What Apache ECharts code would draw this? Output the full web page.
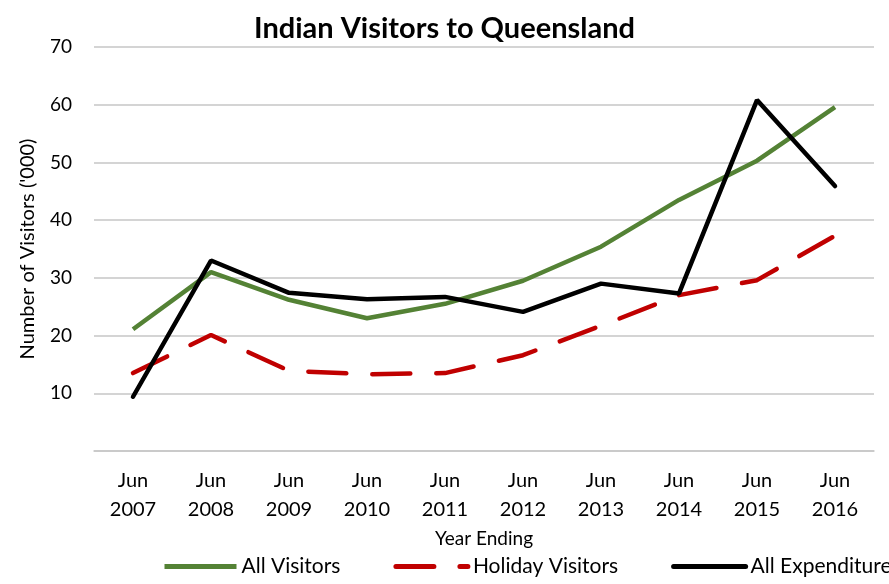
<!DOCTYPE html>
<html>
<head>
<meta charset="utf-8">
<script src="https://cdn.jsdelivr.net/npm/echarts@6/dist/echarts.min.js"></script>
<style>
  html, body { margin: 0; padding: 0; background: #fff; }
  #main { width: 889px; height: 584px; }
</style>
</head>
<body>
<div id="main"></div>
<script>
var years = ['Jun\n2007', 'Jun\n2008', 'Jun\n2009', 'Jun\n2010', 'Jun\n2011',
             'Jun\n2012', 'Jun\n2013', 'Jun\n2014', 'Jun\n2015', 'Jun\n2016'];
var allVisitors = [21.1, 31.0, 26.2, 23.0, 25.5, 29.5, 35.4, 43.5, 50.3, 59.6];
var holidayVisitors = [13.5, 20.1, 13.9, 13.3, 13.5, 16.6, 21.7, 27.0, 29.6, 37.3];
var allExpenditure = [9.4, 33.0, 27.4, 26.3, 26.7, 24.1, 29.0, 27.3, 60.8, 45.9];

var font = 'Lato';
var myChart = echarts.init(document.getElementById('main'));

myChart.setOption({
    animation: false,
    title: {
        text: 'Indian Visitors to Queensland',
        left: 'center',
        top: 9,
        textStyle: { fontFamily: font, fontSize: 29, fontWeight: 'bold', color: '#000' }
    },
    legend: {
        data: ['All Visitors', 'Holiday Visitors', 'All Expenditure'],
        left: 157,
        top: 551,
        width: 1000,
        itemWidth: 72,
        itemHeight: 14,
        itemGap: 53,
        itemStyle: { opacity: 0 },
        lineStyle: { width: 5 },
        textStyle: { fontFamily: font, fontSize: 21, color: '#000' }
    },
    grid: { left: 94, right: 15, top: 47, bottom: 133 },
    xAxis: {
        type: 'category',
        data: years,
        boundaryGap: true,
        name: 'Year Ending',
        nameLocation: 'middle',
        nameGap: 78,
        nameTextStyle: { fontFamily: font, fontSize: 19, color: '#000' },
        axisLine: { lineStyle: { color: '#c6c6c6', width: 1.5 } },
        axisTick: { show: false },
        axisLabel: { fontFamily: font, fontSize: 20, color: '#000', lineHeight: 29, margin: 15 }
    },
    yAxis: {
        type: 'value',
        min: 0,
        max: 70,
        interval: 10,
        name: "Number of Visitors ('000)",
        nameLocation: 'middle',
        nameGap: 56,
        nameTextStyle: { fontFamily: font, fontSize: 20, color: '#000' },
        axisLine: { show: false },
        axisTick: { show: false },
        axisLabel: {
            fontFamily: font, fontSize: 19, color: '#000', margin: 22,
            formatter: function (v) { return v === 0 ? '' : v; }
        },
        splitLine: { lineStyle: { color: '#c6c6c6', width: 1.5 } }
    },
    series: [{
        name: 'All Visitors',
        type: 'line',
        data: allVisitors,
        symbol: 'none',
        lineStyle: { color: '#548235', width: 4.5 },
        itemStyle: { color: '#548235' }
    }, {
        name: 'Holiday Visitors',
        type: 'line',
        data: holidayVisitors,
        symbol: 'none',
        lineStyle: { color: '#c00000', width: 4.5, type: [38, 26], cap: 'round' },
        itemStyle: { color: '#c00000' }
    }, {
        name: 'All Expenditure',
        type: 'line',
        data: allExpenditure,
        symbol: 'none',
        lineStyle: { color: '#000', width: 4.5, cap: 'round' },
        itemStyle: { color: '#000' }
    }]
});
</script>
</body>
</html>
